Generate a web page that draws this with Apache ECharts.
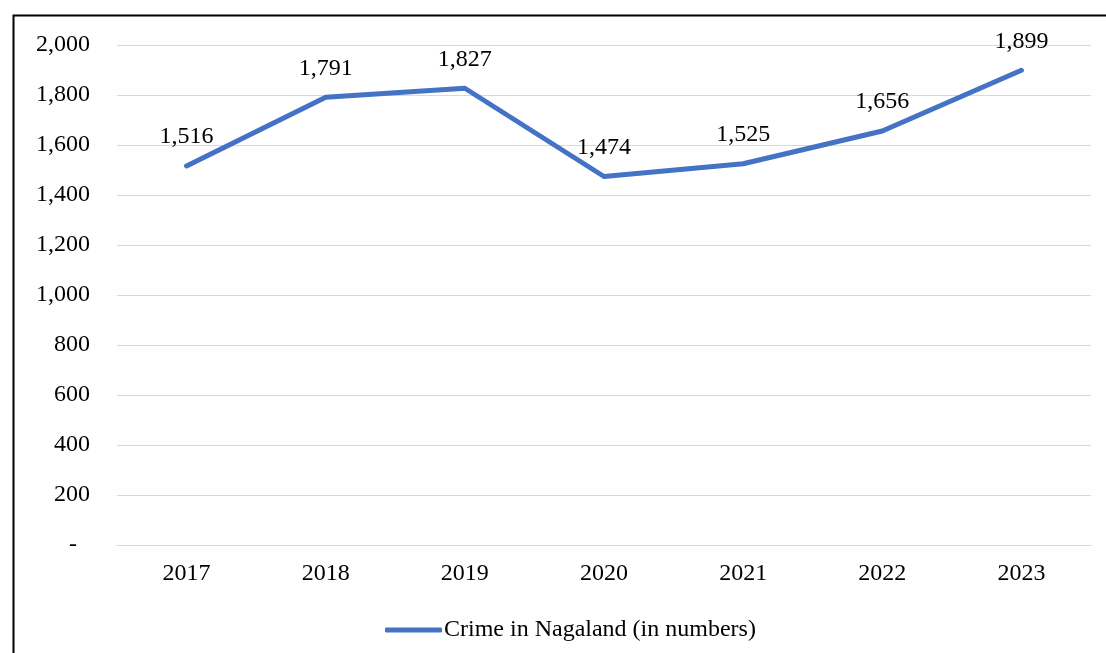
<!DOCTYPE html>
<html><head><meta charset="utf-8">
<script src="https://cdn.jsdelivr.net/npm/echarts@6/dist/echarts.min.js"></script>
<style>html,body{margin:0;padding:0;background:#fff}#c{width:1106px;height:653px}</style>
</head><body><div id="c"></div>
<script>
var categories = ['2017','2018','2019','2020','2021','2022','2023'];
var crimeValues = [1516, 1791, 1827, 1474, 1525, 1656, 1899];
var seriesName = 'Crime in Nagaland (in numbers)';
var FONT = '"Liberation Serif", "Times New Roman", serif';
function fmt(v){ return v === 0 ? '{d|-}' : v.toLocaleString('en-US'); }
var chart = echarts.init(document.getElementById('c'), null, {renderer:'canvas'});
chart.setOption({
  animation:false,
  backgroundColor:'#fff',
  graphic:[{type:'rect',shape:{x:13.5,y:15.5,width:1200,height:800},style:{fill:'none',stroke:'#000',lineWidth:2},z:-1}],
  grid:{left:117,right:15,top:45,bottom:108,containLabel:false},
  legend:{data:[seriesName],bottom:6,left:380,itemWidth:57,itemHeight:5,itemGap:5,
    textStyle:{fontFamily:FONT,fontSize:24,color:'#000',padding:[0,0,0,-3]},
    icon:'roundRect'},
  xAxis:{type:'category',data:categories,boundaryGap:true,
    axisLine:{show:true,lineStyle:{color:'#d9d9d9',width:1}},axisTick:{show:false},
    axisLabel:{fontFamily:FONT,fontSize:24,color:'#000',margin:17}},
  yAxis:{type:'value',min:0,max:2000,interval:200,
    axisLine:{show:false},axisTick:{show:false},
    splitLine:{lineStyle:{color:'#d9d9d9',width:1}},
    axisLabel:{fontFamily:FONT,fontSize:24,color:'#000',margin:27,formatter:fmt,
      rich:{d:{fontFamily:FONT,fontSize:24,color:'#000',padding:[0,13,0,0]}}}},
  series:[{name:seriesName,type:'line',data:crimeValues,symbol:'circle',symbolSize:0,showSymbol:true,
    lineStyle:{color:'#4472C4',width:5,cap:'round',join:'round'},itemStyle:{color:'#4472C4'},
    label:{show:true,position:'top',distance:17,offset:[3,0],fontFamily:FONT,fontSize:24,color:'#000',
      formatter:function(p){return p.value.toLocaleString('en-US');}},
    labelLayout:{hideOverlap:false}}]
});
</script></body></html>
